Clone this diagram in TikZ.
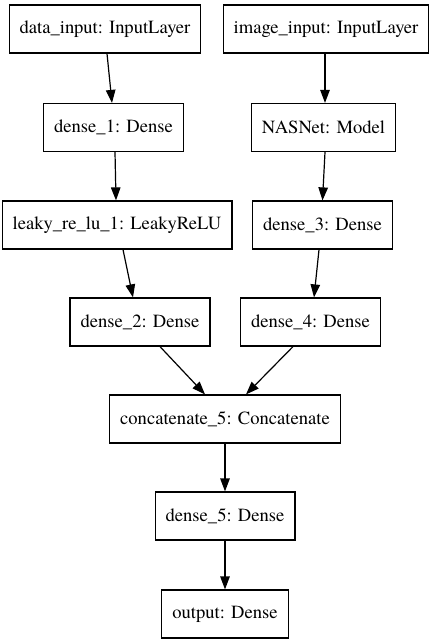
\documentclass[tikz,border=0pt]{standalone}
\usepackage{fontspec}
\setmainfont{texgyretermes}[Extension=.otf, UprightFont=*-regular, BoldFont=*-bold]
\usepackage{tikz}
\usetikzlibrary{
    arrows.meta,
    calc,
    positioning
}

\begin{document}
\begin{tikzpicture}[x=1pt, y=-1pt,
    layer/.style={draw, line width=1.2pt, rectangle, minimum height=48pt, inner xsep=10.5pt, font=\fontsize{18.6}{22}\selectfont},
    flow/.style={line width=1.2pt, -{Triangle[length=13pt, width=9.5pt]}}]
                    \useasboundingbox (0, 0) rectangle (432, 644);
                    \node[layer] (datain) at (105, 29) {data\_input: InputLayer};
                    \node[layer] (imagein) at (326, 29) {image\_input: InputLayer};
                    \node[layer] (dense1) at (113.5, 127.5) {dense\_1: Dense};
                    \node[layer] (nasnet) at (323.5, 127.5) {NASNet: Model};
                    \node[layer] (leaky1) at (117, 225) {leaky\_re\_lu\_1: LeakyReLU};
                    \node[layer] (dense3) at (322.5, 225) {dense\_3: Dense};
                    \node[layer] (dense2) at (140, 322) {dense\_2: Dense};
                    \node[layer] (dense4) at (310.5, 322) {dense\_4: Dense};
                    \node[layer] (concat5) at (225, 419) {concatenate\_5: Concatenate};
                    \node[layer] (dense5) at (225, 516) {dense\_5: Dense};
                    \node[layer] (output) at (225, 614) {output: Dense};
                    \draw
                    ([xshift=2]datain.south) edge[flow] ([xshift=-1.5]dense1.north)
                    ([xshift=-1]imagein.south) edge[flow] ([xshift=1.5]nasnet.north)
                    ([xshift=1.5]dense1.south) edge[flow] ([xshift=-1]leaky1.north)
                    ([xshift=1.5]nasnet.south) edge[flow] (dense3.north)
                    ([xshift=6]leaky1.south) edge[flow] ([xshift=-7]dense2.north)
                    ([xshift=-3.5]dense3.south) edge[flow] ([xshift=3.5]dense4.north)
                    ([xshift=20]dense2.south) edge[flow] ([xshift=-20]concat5.north)
                    ([xshift=-17.5]dense4.south) edge[flow] ([xshift=21]concat5.north)
                    (concat5.south) edge[flow] (dense5.north)
                    (dense5.south) edge[flow] (output.north);
                \end{tikzpicture}
\end{document}
